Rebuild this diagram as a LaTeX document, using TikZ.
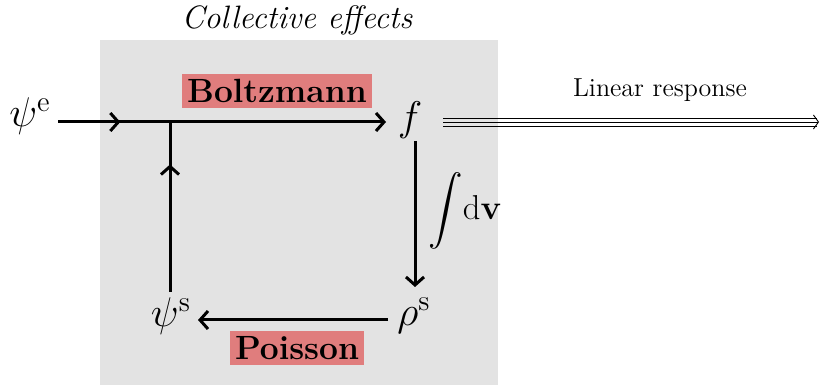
\documentclass[tikz,border=0pt]{standalone}
\usepackage{exscale}
\usetikzlibrary{arrows.meta,decorations.markings}
\definecolor{boxgray}{RGB}{227,227,227}
\definecolor{labpink}{RGB}{224,125,125}
\begin{document}
\begin{tikzpicture}[x=0.5pt,y=-0.5pt,
  tip/.tip={Straight Barb[length=4pt,width=9pt,line width=1.5pt]},
  flow/.style={line width=1.5pt,-tip},
  plain/.style={line width=1.5pt},
  midarrow/.style={postaction={decorate},decoration={markings,mark=at position #1 with {\arrow{tip}}}},
  sym/.style={inner sep=1pt,font=\fontsize{22}{26}\selectfont},
  lab/.style={fill=labpink,inner sep=0pt,minimum height=17pt,font=\fontsize{16.8}{19}\selectfont\bfseries},
  thinl/.style={line width=0.45pt}]
\useasboundingbox (0,0) rectangle (821,385);
\fill[boxgray] (100,40) rectangle (498,385);
\node[font=\fontsize{16.2}{19}\selectfont\itshape] (title) at (297,20) {Collective effects};
\node[sym] (psie) at (30,116) {$\psi^{\mathrm{e}}$};
\node[sym] (f) at (410,120) {$f$};
\node[sym] (rhos) at (414,316) {$\rho^{\mathrm{s}}$};
\node[sym] (psis) at (171,316) {$\psi^{\mathrm{s}}$};
\coordinate (j) at (170,122);
\coordinate (fin) at (58,122);
\coordinate (fout) at (386,122);
\coordinate (vs) at (170,292);
\coordinate (ft) at (415,141);
\coordinate (fb) at (415,287);
\coordinate (rl) at (388,320);
\coordinate (pr) at (198,320);
\node[lab,minimum width=95pt] (boltz) at (277,91) {Boltzmann};
\node[lab,minimum width=67pt] (poiss) at (297,348) {Poisson};
\node[sym,font=\fontsize{17.5}{21}\selectfont] (int) at (465,211) {$\displaystyle\int\!\mathrm{d}\mathbf{v}$};
\node[font=\fontsize{13}{16}\selectfont] (lr) at (660,90) {Linear response};
% connectors
\draw[flow,midarrow=0.19] (fin) -- (fout);
\draw[plain,midarrow=0.75] (vs) -- (j);
\draw[flow] (ft) -- (fb);
\draw[flow] (rl) -- (pr);
% triple arrow
\coordinate (ls) at (443,122);
\coordinate (le) at (819,122);
\draw[thinl] ([yshift=2pt]ls) -- ([yshift=2pt,xshift=-1pt]le);
\draw[thinl] ([yshift=-2pt]ls) -- ([yshift=-2pt,xshift=-1pt]le);
\draw[thinl,-{Straight Barb[length=2.5pt,width=7pt,line width=0.45pt]}] (ls) -- (le);
\end{tikzpicture}
\end{document}
